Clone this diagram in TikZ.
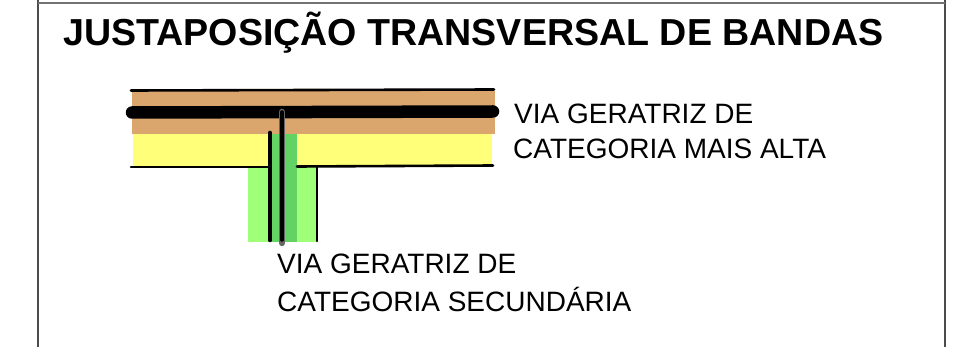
\documentclass[tikz,border=0pt]{standalone}
\usepackage{fontspec}
\setmainfont{Liberation Sans}
\usepackage[dvipsnames]{xcolor}
\definecolor{bandbrown}{HTML}{DBA66E}
\definecolor{bandyellow}{HTML}{FFFF7A}
\definecolor{stripgreen}{HTML}{A0FF78}
\definecolor{jointgreen}{HTML}{62D264}
\definecolor{jointgreenb}{HTML}{66D464}
\begin{document}
\begin{tikzpicture}[x=1pt, y=-1pt, line cap=round,
	edgeline/.style={black, line width=2.6pt},
	frameline/.style={line width=1.2pt, black!70, line cap=butt},
	labeltext/.style={anchor=base west, inner sep=0pt, font=\fontsize{28}{28}\selectfont}]
			\useasboundingbox (0,0) rectangle (955,347);
			% coordinates
			\coordinate (A) at (132,91);
			\coordinate (B) at (495,134);
			\coordinate (C) at (133,134);
			\coordinate (D) at (492,166);
			\coordinate (E) at (248,166);
			\coordinate (F) at (318,242);
			\coordinate (G) at (271,134);
			\coordinate (H) at (283,242);
			\coordinate (I) at (297,134);
			% frame
			\draw[frameline] (38,0) -- (38,347);
			\draw[frameline] (945,0) -- (945,347);
			\draw[frameline, line width=1.6pt, black!55] (38,3) -- (945,3);
			% bands
			\fill[bandbrown] (A) rectangle (B);
			\fill[bandyellow] (C) rectangle (D);
			\fill[stripgreen] (E) rectangle (F);
			\fill[jointgreenb] (G) rectangle (H);
			\fill[jointgreen] (H) rectangle (I);
			% band edges
			\draw[edgeline] (131,90.5) -- (494,89.5);
			\draw[edgeline] (131,167) -- (270,167);
			\draw[edgeline] (297,166.5) -- (493,165.5);
			% generating lines
			\draw[line width=12.5pt] (132,112.5) -- (493,111.5);
			\draw[line width=4.6pt] (270,133) -- (270,240);
			\draw[line width=2.6pt] (317,167) -- (317,241);
			\draw[line width=6.5pt, black!60] (282,112) -- (282,243);
			\draw[line width=3.4pt] (282,112) -- (282,240);
			% labels
			\node[anchor=base west, inner sep=0pt, font=\bfseries\fontsize{37.6}{37.6}\selectfont] (title) at (63,46) {JUSTAPOSIÇÃO TRANSVERSAL DE BANDAS};
			\node[labeltext] (high1) at (514,124) {VIA GERATRIZ DE};
			\node[labeltext] (high2) at (513,159) {CATEGORIA MAIS ALTA};
			\node[labeltext] (low1) at (277,273) {VIA GERATRIZ DE};
			\node[labeltext] (low2) at (277,311) {CATEGORIA SECUNDÁRIA};
		\end{tikzpicture}
\end{document}
